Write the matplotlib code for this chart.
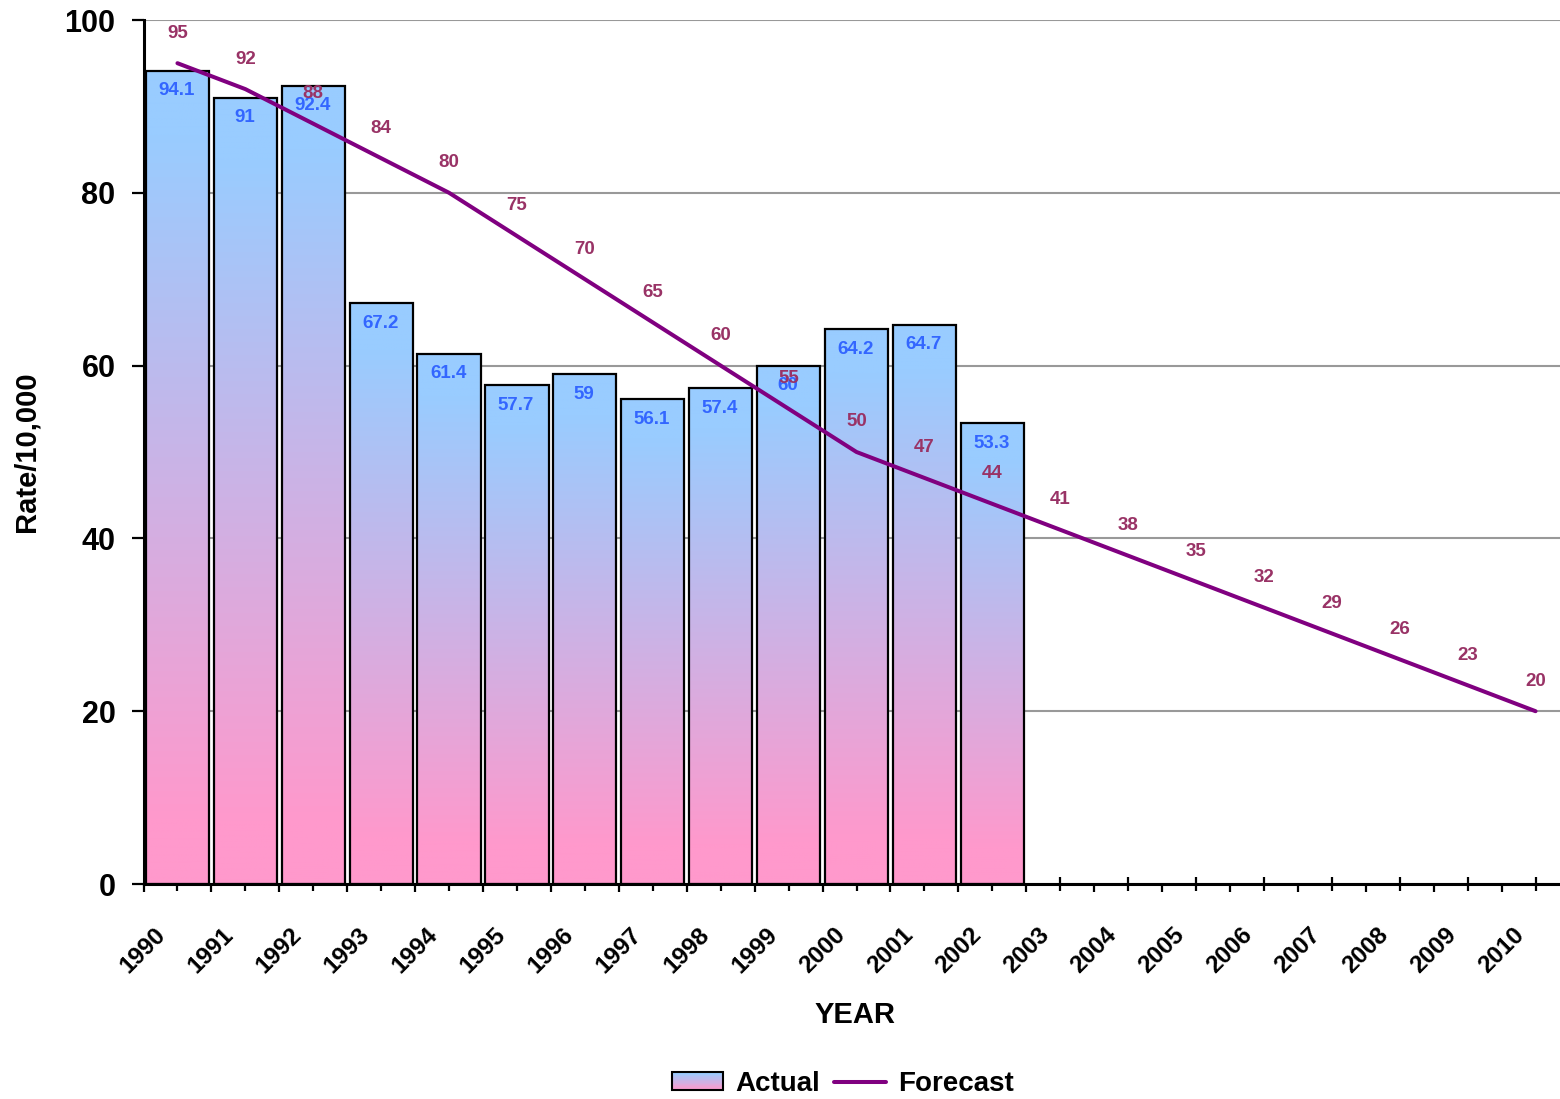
import numpy as np
import matplotlib
matplotlib.use('Agg')
import matplotlib.pyplot as plt
from matplotlib.patches import Rectangle
from matplotlib.legend_handler import HandlerBase
from matplotlib.colors import to_rgb

plt.rcParams['font.family'] = ['Liberation Sans', 'DejaVu Sans']
plt.rcParams['font.weight'] = 'bold'
plt.rcParams['axes.labelweight'] = 'bold'

# ---- data ----
years = ['1990', '1991', '1992', '1993', '1994', '1995', '1996', '1997', '1998',
         '1999', '2000', '2001', '2002', '2003', '2004', '2005', '2006', '2007',
         '2008', '2009', '2010']
actual = [94.1, 91, 92.4, 67.2, 61.4, 57.7, 59, 56.1, 57.4, 60, 64.2, 64.7, 53.3]
forecast = [95, 92, 88, 84, 80, 75, 70, 65, 60, 55, 50, 47, 44, 41, 38, 35, 32,
            29, 26, 23, 20]
y_ticks = [0, 20, 40, 60, 80, 100]

BLUE = '#99CCFF'
PINK = '#FF99CC'
LINE_C = '#800080'
BAR_LBL_C = '#3366FF'
FC_LBL_C = '#993366'

W, H = 1560, 1099
fig = plt.figure(figsize=(W / 100, H / 100), dpi=100)
ax = fig.add_axes([143.5 / W, 215 / H, 1426 / W, 864 / H])

x = np.arange(len(years))
xa = x[:len(actual)]

bars = ax.bar(xa, actual, width=0.93, facecolor='none', edgecolor='black',
              linewidth=1.6, zorder=3)

c_top = np.array(to_rgb(BLUE))
c_bot = np.array(to_rgb(PINK))
s = np.linspace(0, 1, 256)
t = np.clip((s - 0.08) / 0.84, 0, 1)
grad = (c_top[None, :] * (1 - t[:, None]) + c_bot[None, :] * t[:, None])[:, None, :]

for b in bars:
    x0 = b.get_x()
    w = b.get_width()
    h = b.get_height()
    im = ax.imshow(grad, extent=[x0, x0 + w, 0, h], origin='upper',
                   aspect='auto', zorder=2, interpolation='bilinear')
    im.set_clip_path(b)

line, = ax.plot(x, forecast, color=LINE_C, lw=2.9, zorder=4,
                solid_joinstyle='round', solid_capstyle='round', label='Forecast')

for xi, v in zip(xa, actual):
    ax.annotate(f'{v:g}', (xi, v), xytext=(-1, -20), textcoords='offset pixels',
                ha='center', va='center', color=BAR_LBL_C, fontsize=13.5,
                fontweight='bold', zorder=5)
for xi, v in zip(x, forecast):
    ax.annotate(f'{v:g}', (xi, v), xytext=(0, 30), textcoords='offset pixels',
                ha='center', va='center', color=FC_LBL_C, fontsize=13.5,
                fontweight='bold', zorder=6)

ax.set_xlim(-0.5, len(years) - 0.5)
ax.set_ylim(0, 100)

for sp in ['top', 'right']:
    ax.spines[sp].set_visible(False)
for sp in ['left', 'bottom']:
    ax.spines[sp].set_linewidth(2.2)
    ax.spines[sp].set_color('black')

ax.set_yticks(y_ticks)
ax.tick_params(axis='y', direction='out', length=8.6, width=1.6, pad=11.5,
               labelsize=22)
ax.set_xticks(np.arange(-0.5, len(years), 1.0))
ax.set_xticklabels([])
ax.set_xticks(x, minor=True)
ax.tick_params(axis='x', which='major', direction='out', length=6, width=1.6)
ax.tick_params(axis='x', which='minor', direction='inout', length=10, width=1.6)

ax.yaxis.grid(True, color='#999999', lw=1.5)
ax.set_axisbelow(True)

for xi, yr in zip(x, years):
    ax.annotate(yr, (xi, 0), xycoords=('data', 'axes fraction'),
                xytext=(-15, -47), textcoords='offset pixels', rotation=45,
                ha='right', va='center', rotation_mode='anchor',
                fontsize=17.5, fontweight='bold')

ax.set_xlabel('YEAR', fontsize=21, fontweight='bold')
ax.xaxis.set_label_coords(0.499, -0.135)
ax.set_ylabel('Rate/10,000', fontsize=21, fontweight='bold')
ax.yaxis.set_label_coords(-0.072, 0.5)


class GradientHandler(HandlerBase):
    def create_artists(self, legend, orig_handle, xdescent, ydescent, width,
                       height, fontsize, trans):
        arts = []
        n = 14
        for i in range(n):
            f = i / (n - 1)
            col = c_bot * (1 - f) + c_top * f
            arts.append(Rectangle((-xdescent, -ydescent + height * i / n), width,
                                  height / n, facecolor=col, edgecolor='none',
                                  transform=trans))
        arts.append(Rectangle((-xdescent, -ydescent), width, height,
                              facecolor='none', edgecolor='black', lw=1.5,
                              transform=trans))
        return arts


proxy = Rectangle((0, 0), 1, 1, facecolor=BLUE, edgecolor='black')
fig.legend([proxy, line], ['Actual', 'Forecast'], loc='center',
           bbox_to_anchor=(843 / W, 1 - 1084 / H), ncol=2, frameon=False,
           prop={'size': 20, 'weight': 'bold'}, handlelength=1.85,
           handleheight=0.62, handletextpad=0.45, columnspacing=0.5,
           handler_map={proxy: GradientHandler()})

fig.savefig('out.png', dpi=100)
